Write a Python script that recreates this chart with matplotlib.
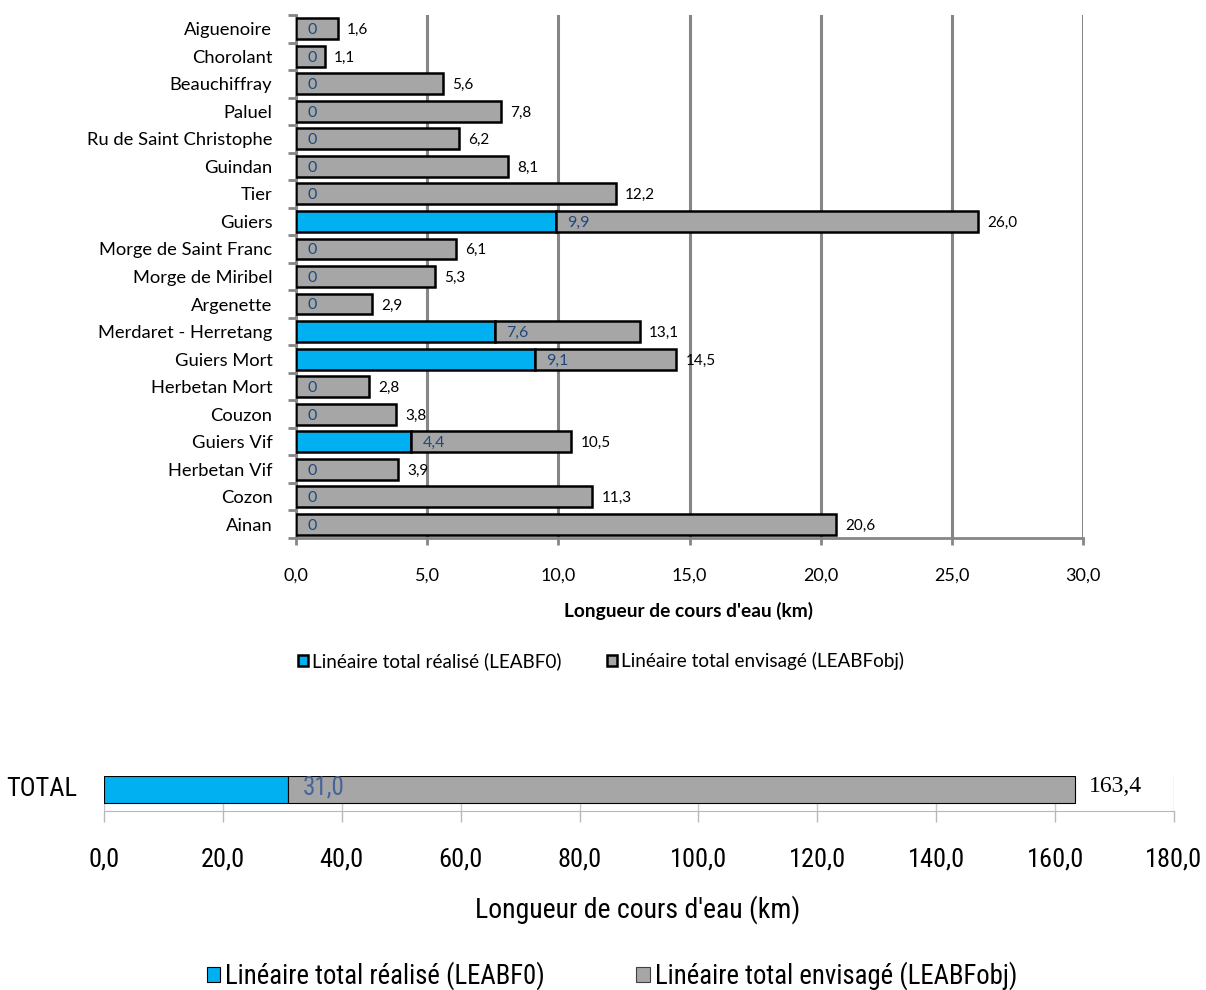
import numpy as np
import matplotlib
matplotlib.use("Agg")
import matplotlib.pyplot as plt
from matplotlib.patches import Patch
from matplotlib import font_manager

# Cours d'eau : linéaire réalisé et linéaire envisagé (km)
rivers = ["Aiguenoire", "Chorolant", "Beauchiffray", "Paluel", "Ru de Saint Christophe",
          "Guindan", "Tier", "Guiers", "Morge de Saint Franc", "Morge de Miribel",
          "Argenette", "Merdaret - Herretang", "Guiers Mort", "Herbetan Mort", "Couzon",
          "Guiers Vif", "Herbetan Vif", "Cozon", "Ainan"]
realise = [0, 0, 0, 0, 0, 0, 0, 9.9, 0, 0, 0, 7.6, 9.1, 0, 0, 4.4, 0, 0, 0]
envisage = [1.6, 1.1, 5.6, 7.8, 6.2, 8.1, 12.2, 26.0, 6.1, 5.3, 2.9, 13.1, 14.5,
            2.8, 3.8, 10.5, 3.9, 11.3, 20.6]
top_ticks = [0, 5, 10, 15, 20, 25, 30]
total_ticks = [0, 20, 40, 60, 80, 100, 120, 140, 160, 180]
legend_labels = ["Linéaire total réalisé (LEABF0)", "Linéaire total envisagé (LEABFobj)"]

BLUE = "#00b0f0"
GREY = "#a6a6a6"
NAVY = "#1f497d"
GRID = "#868686"

W, H = 1206, 990


def rect(l, t, r, b):
    return [l / W, 1 - b / H, (r - l) / W, (b - t) / H]


def fr(v):
    return f"{v:.1f}".replace(".", ",")


# police étroite pour le graphique total, si une est installée
def narrow_font():
    fonts = font_manager.fontManager.ttflist
    names = {f.name for f in fonts}
    for n in ["Liberation Sans Narrow", "Roboto Condensed", "Open Sans Condensed",
              "Noto Sans Condensed", "DejaVu Sans Condensed"]:
        if n in names:
            return {"family": n}
    for f in fonts:
        if f.stretch in ("condensed", "semi-condensed") and f.style == "normal" \
                and f.weight in ("normal", 400, "regular"):
            return {"family": f.name, "stretch": f.stretch}
    return {"family": "DejaVu Sans"}


NARROW = narrow_font()

plt.rcParams["font.family"] = ["Lato", "DejaVu Sans"]
fig = plt.figure(figsize=(W / 100, H / 100), dpi=100)

# --- graphique par cours d'eau ---
ax = fig.add_axes(rect(296, 15, 1083, 538))
y = np.arange(len(rivers))
realise = np.array(realise)
envisage = np.array(envisage)
ax.barh(y, realise, height=0.76, color=BLUE, edgecolor="black", linewidth=1.8, zorder=3)
ax.barh(y, envisage - realise, left=realise, height=0.76, color=GREY,
        edgecolor="black", linewidth=1.8, zorder=3)

for yi, r, e in zip(y, realise, envisage):
    txt = "0" if r == 0 else fr(r)
    ax.text(r + 0.42, yi + 0.05, txt, color=NAVY, fontsize=11.5, va="center", ha="left",
            zorder=4)
    ax.text(e + 0.35, yi + 0.05, fr(e), color="black", fontsize=11, va="center", ha="left",
            zorder=4)

ax.set_xlim(0, 30)
ax.set_ylim(len(rivers) - 0.5, -0.5)
ax.set_xticks(top_ticks)
ax.set_xticklabels([fr(t) for t in top_ticks], fontsize=13)
ax.set_yticks(y)
ax.set_yticklabels(rivers, fontsize=13.2)
ax.set_yticks(np.arange(-0.5, len(rivers)), minor=True)
ax.tick_params(axis="y", which="major", length=0, pad=17)
ax.tick_params(axis="y", which="minor", length=6, width=2, color=GRID)
ax.tick_params(axis="x", length=5, width=2, color=GRID, pad=16)
ax.xaxis.grid(True, color=GRID, linewidth=2.2)
ax.set_axisbelow(True)
for s in ["top", "right"]:
    ax.spines[s].set_visible(False)
for s in ["left", "bottom"]:
    ax.spines[s].set_color(GRID)
    ax.spines[s].set_linewidth(2)

fig.text(688 / W, 1 - 611 / H, "Longueur de cours d'eau (km)", fontsize=13.8,
         fontweight="bold", ha="center", va="center")

handles = [Patch(facecolor=BLUE, edgecolor="black", linewidth=1.8),
           Patch(facecolor=GREY, edgecolor="black", linewidth=1.8)]
fig.legend(handles, legend_labels, loc="center", bbox_to_anchor=(601 / W, 1 - 661 / H),
           ncol=2, frameon=False, fontsize=13.6, handlelength=0.5, handleheight=0.5,
           handletextpad=0.2, columnspacing=2.45)

# --- graphique total ---
axt = fig.add_axes(rect(104, 776, 1174, 811))
tot_r = realise.sum()
tot_e = envisage.sum()
axt.barh(0, tot_r, height=1, color=BLUE, edgecolor="black", linewidth=0.8, zorder=3)
axt.barh(0, tot_e - tot_r, left=tot_r, height=1, color=GREY, edgecolor="black",
         linewidth=0.8, zorder=3)
axt.text(tot_r + 2.5, 0.08, fr(tot_r), color="#45659a", fontsize=18, va="center",
         ha="left", zorder=4, **NARROW)
axt.text(tot_e + 2.3, 0.1, fr(tot_e), color="black", fontsize=17, va="center",
         ha="left", zorder=4, family="Liberation Serif")
axt.set_xlim(0, 180)
axt.set_ylim(-0.8, 0.5)
axt.set_xticks(total_ticks)
axt.set_xticklabels([fr(t) for t in total_ticks], fontsize=19, **NARROW)
axt.set_yticks([0.12])
axt.set_yticklabels(["TOTAL"], fontsize=19, **NARROW)
axt.tick_params(axis="y", length=0, pad=19)
axt.tick_params(axis="x", length=8, width=1, color="#b8b8b8", pad=18)
axt.xaxis.grid(True, color="#c8c8c8", linewidth=1)
axt.set_axisbelow(True)
for s in ["top", "right", "left"]:
    axt.spines[s].set_visible(False)
axt.spines["bottom"].set_color("#b8b8b8")

fig.text(638 / W, 1 - 910 / H, "Longueur de cours d'eau (km)", fontsize=20,
         ha="center", va="center", **NARROW)

handles_t = [Patch(facecolor=BLUE, edgecolor="black", linewidth=0.8),
             Patch(facecolor=GREY, edgecolor="#404040", linewidth=0.8)]
fig.legend(handles_t, legend_labels, loc="center", bbox_to_anchor=(612 / W, 1 - 976 / H),
           ncol=2, frameon=False, handlelength=0.5, handleheight=0.5,
           handletextpad=0.2, columnspacing=3.4, borderpad=0,
           prop=dict(size=19.3, **NARROW))

fig.savefig("out.png", dpi=100)
